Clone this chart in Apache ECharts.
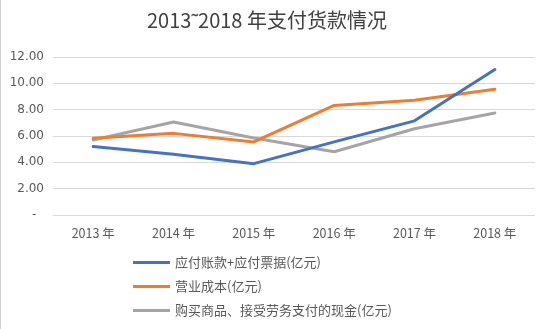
<!DOCTYPE html>
<html>
<head>
<meta charset="utf-8">
<script src="https://cdn.jsdelivr.net/npm/echarts@6/dist/echarts.min.js"></script>
<style>
html,body{margin:0;padding:0;background:#fff;}
#chart{width:550px;height:329px;}
</style>
</head>
<body>
<div id="chart"></div>
<script>
// Payment data, 2013–2018 (亿元)
const years = ['2013 年', '2014 年', '2015 年', '2016 年', '2017 年', '2018 年'];
const payables = [5.20, 4.62, 3.90, 5.55, 7.15, 11.05];
const operatingCost = [5.82, 6.20, 5.55, 8.32, 8.72, 9.55];
const cashPaid = [5.70, 7.07, 5.85, 4.80, 6.55, 7.75];
const seriesNames = ['应付账款+应付票据(亿元)', '营业成本(亿元)', '购买商品、接受劳务支付的现金(亿元)'];
const colors = ['#4472C4', '#ED7D31', '#A5A5A5'];

const chart = echarts.init(document.getElementById('chart'));
const font = '"Noto Sans CJK SC", "Liberation Sans", sans-serif';
const numFont = '"DejaVu Sans", "Noto Sans CJK SC", sans-serif';

chart.setOption({
  animation: false,
  backgroundColor: '#fff',
  title: {
    text: '2013˜2018 年支付货款情况',
    left: 142,
    top: 5,
    textStyle: { fontFamily: font, fontSize: 20, fontWeight: 'normal', color: '#404040' }
  },
  graphic: [{
    type: 'rect',
    shape: { x: 0, y: 0, width: 1, height: 329 },
    style: { fill: '#d0d0d0' },
    silent: true
  }],
  grid: { left: 53, right: 15, top: 57, bottom: 114 },
  legend: {
    orient: 'vertical',
    left: 128,
    top: 251,
    itemWidth: 37,
    itemHeight: 3,
    itemGap: 11,
    icon: 'rect',
    data: seriesNames,
    textStyle: { fontFamily: font, fontSize: 13, color: '#595959' }
  },
  xAxis: {
    type: 'category',
    data: years,
    boundaryGap: true,
    axisLine: { show: false },
    axisTick: { show: false },
    axisLabel: { fontFamily: font, fontSize: 12.5, color: '#595959', margin: 12 }
  },
  yAxis: {
    type: 'value',
    min: 0,
    max: 12,
    interval: 2,
    axisLine: { show: false },
    axisTick: { show: false },
    axisLabel: {
      fontFamily: numFont, fontSize: 12, color: '#595959', margin: 9,
      formatter: v => v === 0 ? '-  ' : v.toFixed(2)
    },
    splitLine: { lineStyle: { color: '#d9d9d9', width: 1 } }
  },
  series: [payables, operatingCost, cashPaid].map((d, i) => ({
    name: seriesNames[i],
    type: 'line',
    data: d,
    symbol: 'none',
    lineStyle: { width: 3, color: colors[i], cap: 'round', join: 'round' },
    itemStyle: { color: colors[i] },
    z: 3 - i
  }))
});
</script>
</body>
</html>
